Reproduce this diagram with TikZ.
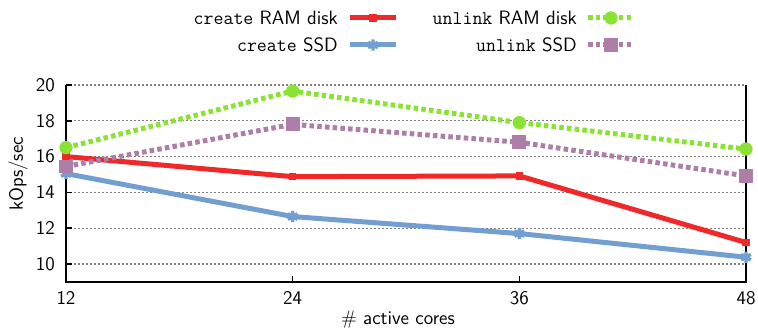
\documentclass[tikz,border=0pt]{standalone}
\usepackage{tikz}
\usetikzlibrary{plotmarks}

\definecolor{ramred}{HTML}{EF2929}
\definecolor{ssdblue}{HTML}{729FCF}
\definecolor{ramgreen}{HTML}{8AE234}
\definecolor{ssdplum}{HTML}{AD7FA8}

\tikzset{
  series/.style={line width=3.75pt, line join=round},
  createram/.style={series, color=ramred, mark=square*, mark size=2.5pt,
    mark options={solid, line width=0.75pt}},
  createssd/.style={series, color=ssdblue, mark=asterisk, mark size=4.2pt,
    mark options={solid, line width=2.6pt}},
  unlinkram/.style={series, color=ramgreen, dash pattern=on 3.4pt off 2.4pt,
    mark=*, mark size=4.6pt, mark options={solid, line width=0.75pt}},
  unlinkssd/.style={series, color=ssdplum, dash pattern=on 3.4pt off 2.4pt,
    mark=square*, mark size=4.8pt, mark options={solid, line width=0.75pt}},
  gridline/.style={gray, line width=0.8pt, dash pattern=on 1.2pt off 1.8pt},
  axisline/.style={black, line width=1.1pt},
  lbl/.style={inner sep=0pt},
}

\begin{document}
\begin{tikzpicture}[x=0.75pt, y=0.75pt, font=\sffamily\fontsize{14.5}{17}\selectfont]
  \useasboundingbox (0,0) rectangle (758,331);

  %% key
  \node[lbl, anchor=east] (keycram) at (338,313) {\texttt{create} RAM disk};
  \draw[createram] (350,313) -- (396,313);
  \draw[createram] plot[only marks] coordinates {(373,313)};
  \node[lbl, anchor=east] (keyuram) at (577,313) {\texttt{unlink} RAM disk};
  \draw[unlinkram] (588,313) -- (633,313);
  \draw[unlinkram] plot[only marks] coordinates {(611,313)};
  \node[lbl, anchor=east] (keycssd) at (338,286) {\texttt{create} SSD};
  \draw[createssd] (350,286) -- (396,286);
  \draw[createssd] plot[only marks] coordinates {(373,286)};
  \node[lbl, anchor=east] (keyussd) at (577,286) {\texttt{unlink} SSD};
  \draw[unlinkssd] (588,286) -- (633,286);
  \draw[unlinkssd] plot[only marks] coordinates {(611,286)};

  %% axis titles
  \node[lbl] (xtitle) at (398,11) {\# active cores};
  \node[lbl, rotate=90] (ytitle) at (18,157) {kOps/sec};

  %% plot area, in cores / kOps
  \begin{scope}[shift={(-160.67,-112)}, x=14.1667pt, y=13.425pt]
    \foreach \v in {10,12,...,20} {
      \draw[gridline] (12,\v) -- (48,\v);
      \draw[axisline] (12,\v) -- ++(0.33,0);
      \node[lbl, anchor=east] (ytick\v) at ([xshift=-8.2pt]12,\v) {\v};
    }
    \draw[axisline] (12,20) -- (12,9) -- (48,9) -- (48,20);
    \foreach \c in {12,24,36,48} {
      \draw[axisline] (\c,9) -- ++(0,0.34);
      \node[lbl] (xtick\c) at ([yshift=-12.2pt]\c,9) {\c};
    }
    %% data
    \draw[createram] plot coordinates {(12,16.0) (24,14.88) (36,14.92) (48,11.2)};
    \draw[unlinkram] plot coordinates {(12,16.5) (24,19.66) (36,17.9) (48,16.42)};
    \draw[createssd] plot coordinates {(12,15.05) (24,12.65) (36,11.7) (48,10.38)};
    \draw[unlinkssd] plot coordinates {(12,15.45) (24,17.8) (36,16.8) (48,14.92)};
  \end{scope}
\end{tikzpicture}
\end{document}
